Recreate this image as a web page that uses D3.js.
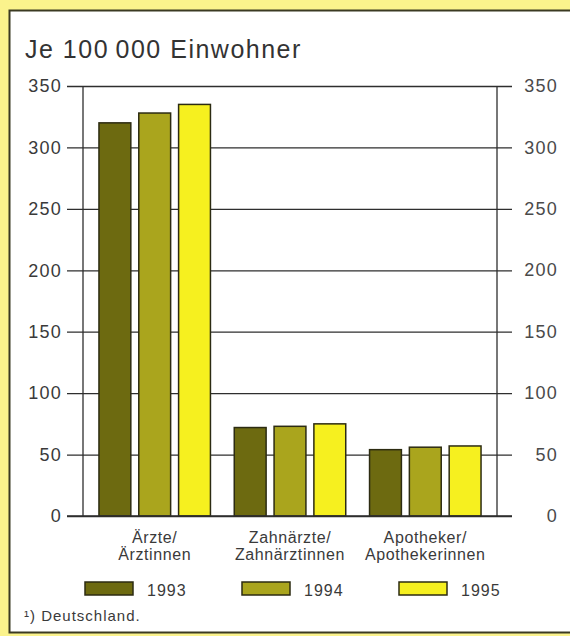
<!DOCTYPE html>
<html>
<head>
<meta charset="utf-8">
<script src="https://cdn.jsdelivr.net/npm/d3@7"></script>
<style>
  html, body { margin: 0; padding: 0; background: #fbf38c; }
  svg { display: block; }
  text { font-family: "Liberation Sans", Arial, sans-serif; fill: #3a3a3a; }
</style>
</head>
<body>
<svg id="chart" width="570" height="636"></svg>
<script>
// Ärzte, Zahnärzte und Apotheker je 100 000 Einwohner, Deutschland 1993–1995
const categories = [
  ["Ärzte/", "Ärztinnen"],
  ["Zahnärzte/", "Zahnärztinnen"],
  ["Apotheker/", "Apothekerinnen"]
];
const years = ["1993", "1994", "1995"];
const values1993 = [320, 72, 54];
const values1994 = [328, 73, 56];
const values1995 = [335, 75, 57];
const yTicks = [0, 50, 100, 150, 200, 250, 300, 350];
const colors = ["#6d6a10", "#aaa51d", "#f6f01f"];

const series = [values1993, values1994, values1995];
const catKeys = categories.map(c => c.join(" "));

const svg = d3.select("#chart");

// yellow page and white panel
svg.append("rect").attr("width", 570).attr("height", 636).attr("fill", "#fbf38c");
svg.append("rect")
  .attr("x", 9.5).attr("y", 10.5).attr("width", 600).attr("height", 622)
  .attr("fill", "#ffffff").attr("stroke", "#3b3a22").attr("stroke-width", 2);

// title
svg.append("text")
  .attr("x", 25).attr("y", 58)
  .style("font-size", "25px").style("letter-spacing", "1.5px")
  .style("fill", "#333")
  .text("Je 100\u2009000 Einwohner");

// scales
const y = d3.scaleLinear().domain([0, 350]).range([516, 86]);
const x = d3.scaleBand().domain(catKeys).range([83, 497])
  .paddingInner(0.176).paddingOuter(0.118);
const xi = d3.scaleBand().domain(years).range([0, x.bandwidth()]).paddingInner(0.2);

const gridLeft = 67, gridRight = 512;

// left axis: ticks run as gridlines across the plot
const gAxis = svg.append("g").attr("transform", `translate(${gridLeft},0)`)
  .call(d3.axisLeft(y).tickValues(yTicks).tickSizeInner(-(gridRight - gridLeft))
    .tickSizeOuter(0).tickPadding(5));
gAxis.select(".domain").remove();
gAxis.selectAll(".tick line").attr("stroke", "#2e2e2e").attr("stroke-width", 1.3);
gAxis.selectAll(".tick text")
  .attr("fill", "#4a4a4a")
  .style("font-size", "18px").style("letter-spacing", "1.2px")
  .style("font-family", "Liberation Sans, Arial, sans-serif");

// right tick labels
svg.append("g").selectAll("text").data(yTicks).join("text")
  .attr("x", 558).attr("y", d => y(d)).attr("dy", "0.34em")
  .attr("text-anchor", "end")
  .style("fill", "#4a4a4a")
  .style("font-size", "18px").style("letter-spacing", "1.2px")
  .text(d => d);

// bars
const groups = svg.append("g").selectAll("g").data(catKeys).join("g")
  .attr("transform", d => `translate(${x(d)},0)`);
groups.selectAll("rect")
  .data((d, ci) => years.map((yr, si) => ({ yr, si, v: series[si][ci] })))
  .join("rect")
  .attr("x", d => xi(d.yr))
  .attr("width", xi.bandwidth())
  .attr("y", d => y(d.v))
  .attr("height", d => y(0) - y(d.v))
  .attr("fill", d => colors[d.si])
  .attr("stroke", "#2c2b12").attr("stroke-width", 1.5);

// vertical axis lines
[83, 497].forEach(xx => {
  svg.append("line")
    .attr("x1", xx).attr("x2", xx).attr("y1", y(350)).attr("y2", y(0))
    .attr("stroke", "#2e2e2e").attr("stroke-width", 1.3);
});
// baseline on top of bars
svg.append("line")
  .attr("x1", gridLeft).attr("x2", gridRight).attr("y1", y(0)).attr("y2", y(0))
  .attr("stroke", "#2e2e2e").attr("stroke-width", 1.3);

// category labels
const catLabels = svg.append("g").selectAll("text").data(categories).join("text")
  .attr("text-anchor", "middle")
  .style("font-size", "16px").style("letter-spacing", "0.6px")
  .attr("transform", (d, i) => `translate(${x(catKeys[i]) + x.bandwidth() / 2},0)`);
catLabels.selectAll("tspan").data(d => d).join("tspan")
  .attr("x", 0).attr("y", (d, i) => 543 + i * 17)
  .text(d => d);

// legend
const legend = svg.append("g").selectAll("g").data(years).join("g")
  .attr("transform", (d, i) => `translate(${85 + i * 157},582)`);
legend.append("rect")
  .attr("width", 48).attr("height", 13)
  .attr("fill", (d, i) => colors[i])
  .attr("stroke", "#2c2b12").attr("stroke-width", 1.5);
legend.append("text")
  .attr("x", 62).attr("y", 14)
  .style("font-size", "16px").style("letter-spacing", "1px")
  .text(d => d);

// footnote
svg.append("text")
  .attr("x", 24).attr("y", 621)
  .style("font-size", "15px").style("letter-spacing", "1px")
  .text("\u00b9) Deutschland.");
</script>
</body>
</html>
